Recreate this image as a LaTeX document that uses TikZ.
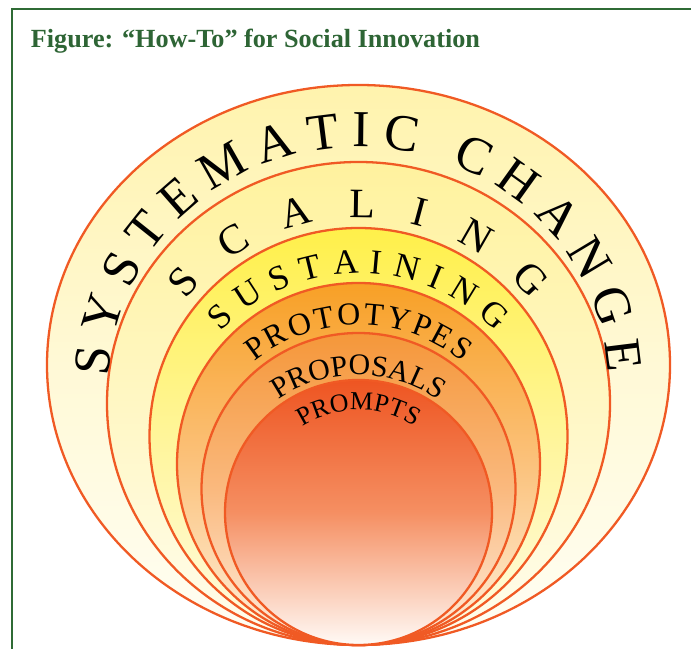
\documentclass[tikz,border=0pt]{standalone}
\usepackage{fontspec}
\setmainfont{Liberation Serif}
\usepackage{xcolor}
\usetikzlibrary{decorations.text}

\definecolor{framegreen}{HTML}{2F6B35}
\definecolor{titlegreen}{HTML}{2E6535}
\definecolor{ringline}{HTML}{F05A24}
\definecolor{sysTop}{HTML}{FFF3AD}
\definecolor{sysMid}{HTML}{FFF9D6}
\definecolor{sysBot}{HTML}{FFFEF4}
\definecolor{scaTop}{HTML}{FFF29E}
\definecolor{scaMid}{HTML}{FFF7C4}
\definecolor{scaBot}{HTML}{FFFDEE}
\definecolor{susTop}{HTML}{FFF04A}
\definecolor{susMid}{HTML}{FFF59A}
\definecolor{susBot}{HTML}{FFFCE6}
\definecolor{proTop}{HTML}{F8A026}
\definecolor{proMid}{HTML}{FBC27C}
\definecolor{proBot}{HTML}{FFF1DE}
\definecolor{posTop}{HTML}{F5973A}
\definecolor{posMid}{HTML}{FAB97E}
\definecolor{posBot}{HTML}{FFEEDF}
\definecolor{pmtTop}{HTML}{EE5522}
\definecolor{pmtMid}{HTML}{F58F62}
\definecolor{pmtBot}{HTML}{FFFAF6}

\newcommand{\fsystem}{\fontsize{52}{60}\selectfont}
\newcommand{\fscaling}{\fontsize{42}{48}\selectfont}
\newcommand{\fsustain}{\fontsize{35}{40}\selectfont}
\newcommand{\fprototype}{\fontsize{32}{36}\selectfont}
\newcommand{\fproposal}{\fontsize{30}{34}\selectfont}
\newcommand{\fprompt}{\fontsize{26}{30}\selectfont}

\tikzset{
  ring/.style={draw=ringline, line width=2.3pt},
  ringtext/.style={decorate, decoration={text along path, text align={fit to path}, #1}},
}

\begin{document}
\begin{tikzpicture}[x=1bp,y=1bp]
\useasboundingbox (0,0) rectangle (691,649);
\clip (0,0) rectangle (691,649);

% Frame and title
\draw[framegreen, line width=2pt] (12.3,-20) rectangle (720,639.7);
\node[anchor=base west, inner sep=0, text=titlegreen,
      font=\fontsize{26.3}{30}\selectfont\bfseries] (title) at (30.7,601.3)
  {Figure: “How-To” for Social Innovation};

% Nested rings, all touching at the bottom
\foreach \cy/\rx/\ry/\ctop/\cmid/\cbot in {
    284/311.5/280/sysTop/sysMid/sysBot,
    245.5/251.5/241.5/scaTop/scaMid/scaBot,
    212.5/209/208.5/susTop/susMid/susBot,
    185/181.5/181/proTop/proMid/proBot,
    160/157/156/posTop/posMid/posBot,
    136.5/133.5/132.5/pmtTop/pmtMid/pmtBot}
  \draw[ring, top color=\ctop, bottom color=\cbot, middle color=\cmid]
    (358.5,\cy) ellipse [x radius=\rx, y radius=\ry];

% Ring labels along the arcs
\path[ringtext={text={|\fsystem|SYSTEMATIC CHANGE}}]
  ([shift={(178:250 and 238)}]358.5,264) arc[start angle=178, end angle=3, x radius=250, y radius=238];
\path[ringtext={text={|\fscaling|SCALING}}]
  ([shift={(141:222 and 220)}]358.5,211) arc[start angle=141, end angle=39, x radius=222, y radius=220];
\path[ringtext={text={|\fsustain|SUSTAINING}}]
  ([shift={(136:191.5 and 191)}]358.5,185) arc[start angle=136, end angle=44, x radius=191.5, y radius=191];
\path[ringtext={text={|\fprototype|PROTOTYPES}}]
  ([shift={(129:165 and 164)}]358.5,160) arc[start angle=129, end angle=51, x radius=165, y radius=164];
\path[ringtext={text={|\fproposal|PROPOSALS}}]
  ([shift={(125:139 and 137.5)}]358.5,136.5) arc[start angle=125, end angle=55, x radius=139, y radius=137.5];
\path[ringtext={text={|\fprompt|PROMPTS}}]
  ([shift={(123:103 and 102.5)}]358.5,136.5) arc[start angle=123, end angle=57, x radius=103, y radius=102.5];

\end{tikzpicture}
\end{document}
